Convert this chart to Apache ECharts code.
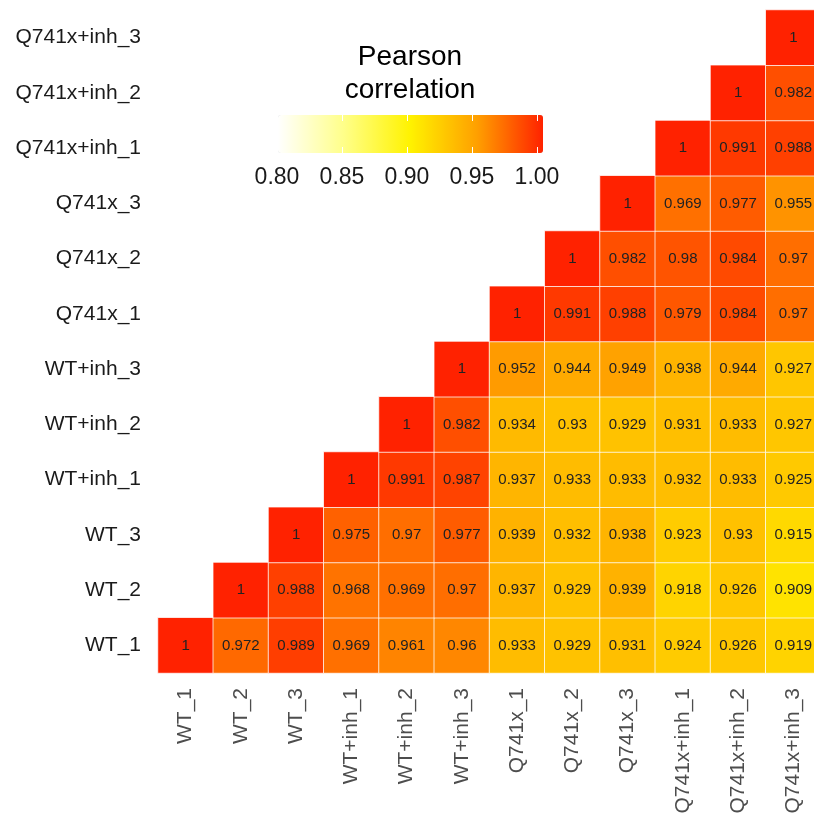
<!DOCTYPE html>
<html>
<head>
<meta charset="utf-8">
<script src="https://cdn.jsdelivr.net/npm/echarts@6/dist/echarts.min.js"></script>
<style>
html,body{margin:0;padding:0;background:#fff;}
#main{width:814px;height:821px;}
</style>
</head>
<body>
<div id="main"></div>
<script>
// 样本名称（x轴从左到右，y轴从下到上）
var samples=['WT_1','WT_2','WT_3','WT+inh_1','WT+inh_2','WT+inh_3',
	'Q741x_1','Q741x_2','Q741x_3','Q741x+inh_1','Q741x+inh_2','Q741x+inh_3'];

// 上三角：每一行从对角线开始的相关系数
var rowWT_1=[1,0.972,0.989,0.969,0.961,0.96,0.933,0.929,0.931,0.924,0.926,0.919];
var rowWT_2=[1,0.988,0.968,0.969,0.97,0.937,0.929,0.939,0.918,0.926,0.909];
var rowWT_3=[1,0.975,0.97,0.977,0.939,0.932,0.938,0.923,0.93,0.915];
var rowWTinh_1=[1,0.991,0.987,0.937,0.933,0.933,0.932,0.933,0.925];
var rowWTinh_2=[1,0.982,0.934,0.93,0.929,0.931,0.933,0.927];
var rowWTinh_3=[1,0.952,0.944,0.949,0.938,0.944,0.927];
var rowQ_1=[1,0.991,0.988,0.979,0.984,0.97];
var rowQ_2=[1,0.982,0.98,0.984,0.97];
var rowQ_3=[1,0.969,0.977,0.955];
var rowQinh_1=[1,0.991,0.988];
var rowQinh_2=[1,0.982];
var rowQinh_3=[1];

var legendTicks=[0.80,0.85,0.90,0.95,1.00];

var rows=[rowWT_1,rowWT_2,rowWT_3,rowWTinh_1,rowWTinh_2,rowWTinh_3,
	rowQ_1,rowQ_2,rowQ_3,rowQinh_1,rowQinh_2,rowQinh_3];

var heatData=[];
for(var i=0;i<rows.length;i++){
	for(var k=0;k<rows[i].length;k++){
		heatData.push([i+k,i,rows[i][k]]);
	}
}

var font='"Liberation Sans", Arial, Helvetica, sans-serif';
var chart=echarts.init(document.getElementById('main'));

var option={
	backgroundColor:'#ffffff',
	animation:false,
	title:{
		text:'Pearson\ncorrelation',
		left:405,
		top:36,
		textAlign:'center',
		textStyle:{
			fontFamily:font,
			fontSize:28,
			fontWeight:'normal',
			lineHeight:33,
			color:'#000'
		}
	},
	grid:[
		{left:158,top:10,width:663,height:663,outerBoundsMode:'none',containLabel:false},
		//图例刻度用的小坐标系
		{left:277,top:115,width:260,height:38,outerBoundsMode:'none',containLabel:false}
	],
	xAxis:[
		{
			type:'category',
			gridIndex:0,
			data:samples,
			axisLine:{show:false},
			axisTick:{show:false},
			splitLine:{show:false},
			axisLabel:{
				rotate:90,
				margin:15,
				fontFamily:font,
				fontSize:21,
				color:'#4d4d4d'
			}
		},
		{
			type:'value',
			gridIndex:1,
			min:0.8,
			max:1.0,
			interval:0.05,
			position:'bottom',
			z:10,
			axisLine:{show:false},
			splitLine:{show:false},
			axisTick:{show:true,inside:true,length:6,lineStyle:{color:'#fff',width:1}},
			axisLabel:{
				margin:13,
				fontFamily:font,
				fontSize:23,
				color:'#1a1a1a',
				formatter:function(v){return v.toFixed(2);}
			}
		},
		{
			type:'value',
			gridIndex:1,
			min:0.8,
			max:1.0,
			interval:0.05,
			position:'top',
			z:10,
			axisLine:{show:false},
			splitLine:{show:false},
			axisTick:{show:true,inside:true,length:6,lineStyle:{color:'#fff',width:1}},
			axisLabel:{show:false}
		}
	],
	yAxis:[
		{
			type:'category',
			gridIndex:0,
			data:samples,
			axisLine:{show:false},
			axisTick:{show:false},
			splitLine:{show:false},
			axisLabel:{
				margin:17,
				fontFamily:font,
				fontSize:21,
				color:'#1a1a1a'
			}
		},
		{
			type:'value',
			gridIndex:1,
			show:false
		}
	],
	visualMap:{
		type:'continuous',
		min:0.8,
		max:1.0,
		orient:'horizontal',
		left:278,
		top:115,
		padding:0,
		itemWidth:38,
		itemHeight:265,
		calculable:false,
		seriesIndex:0,
		dimension:2,
		inRange:{
			color:['#ffffff','#ffff88','#fff200','#ffa000','#ff2200']
		}
	},
	series:[
		{
			type:'heatmap',
			xAxisIndex:0,
			yAxisIndex:0,
			data:heatData,
			itemStyle:{
				borderColor:'rgba(255,255,255,0.75)',
				borderWidth:1
			},
			label:{
				show:true,
				fontFamily:font,
				fontSize:15,
				color:'#222',
				formatter:function(p){return String(p.value[2]);}
			},
			emphasis:{disabled:true}
		}
	]
};
chart.setOption(option);
</script>
</body>
</html>
